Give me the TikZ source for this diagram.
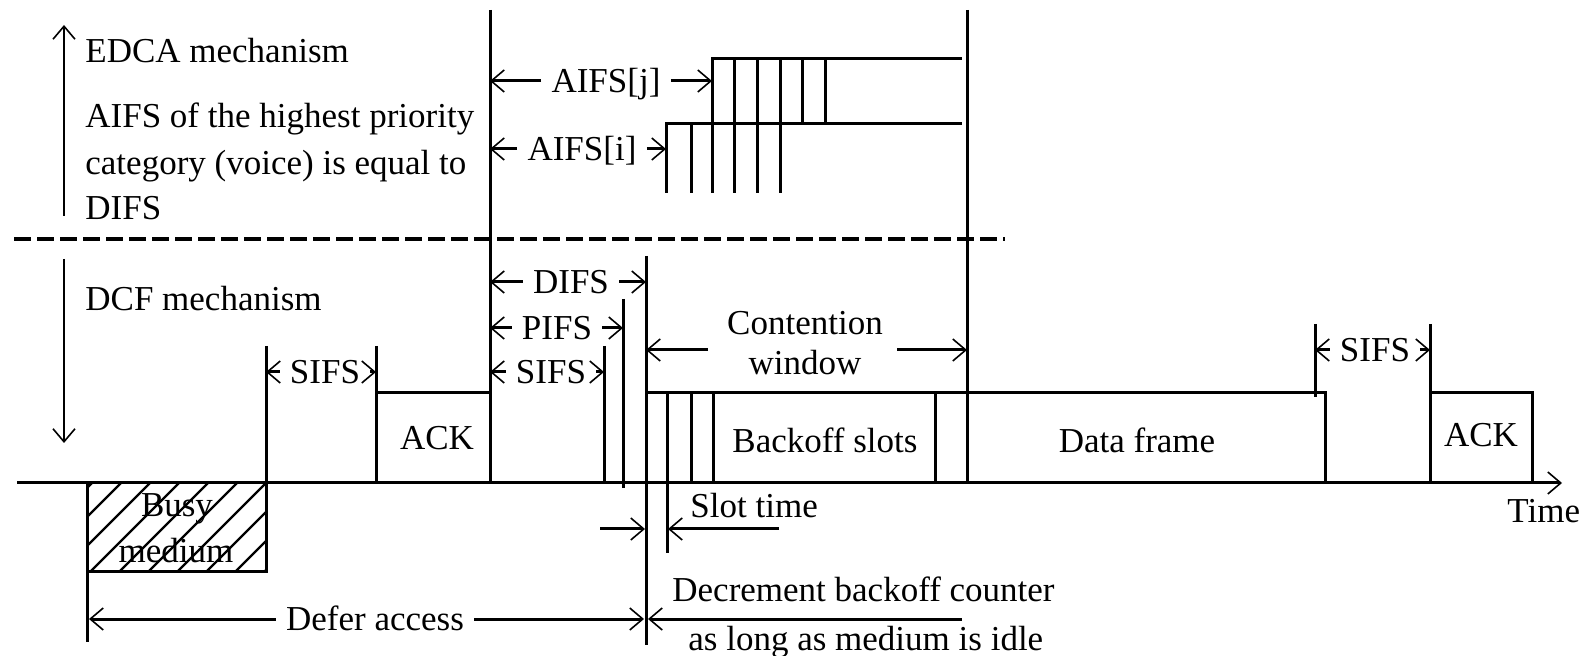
\documentclass[tikz,border=0pt]{standalone}
\usepackage{fontspec}
\setmainfont{Liberation Serif}
\usetikzlibrary{arrows.meta}
\begin{document}
\begin{tikzpicture}[x=0.5pt,y=-0.5pt,
  ln/.style={line width=1.5pt},
  barb/.style={-{Straight Barb[length=6.5pt,width=11pt,line width=0.8pt]}},
  dim/.style={line width=1.5pt,barb},
  vert/.style={line width=1.3pt,barb},
  txt/.style={font=\fontsize{17.5}{23}\selectfont,inner sep=0pt},
  lbl/.style={txt,text height=11.6pt,text depth=0pt,inner xsep=5pt},
  hatch/.style={line width=1.1pt}]
\useasboundingbox (0,0) rectangle (1588,656);

% ---------- named x positions ----------
\coordinate (xBusyL) at (87,0);
\coordinate (xSifsA) at (266,0);
\coordinate (xAckA) at (376,0);
\coordinate (xMain) at (490,0);
\coordinate (xSifsB) at (604,0);
\coordinate (xPifs) at (623,0);
\coordinate (xDifs) at (646,0);
\coordinate (xSlot) at (667,0);
\coordinate (xAi) at (666,0);
\coordinate (xAj) at (712,0);
\coordinate (xCw) at (967,0);
\coordinate (xSifsC) at (1315,0);
\coordinate (xAckB) at (1430,0);

% ---------- time axis ----------
\coordinate (ax0) at (17,483);
\coordinate (ax1) at (1562,483);
\draw[ln,barb] (ax0) -- (ax1);
\node[txt,anchor=base west] (time) at (1507,523) {Time};

% ---------- busy medium ----------
\coordinate (bm0) at (87,483);
\coordinate (bm1) at (266,572);
\begin{scope}
  \clip (bm0) rectangle (bm1);
  \foreach \k in {-4,...,6} \draw[hatch] ({90+29*\k},572) -- ++(110,-110);
\end{scope}
\draw[ln] (bm0) rectangle (bm1);
\node[txt,anchor=base] (busy) at (177,517) {Busy};
\node[txt,anchor=base] (medium) at (176,563) {medium};

% ---------- vertical lines and frames ----------
\draw[ln] (87,483) -- (87,642);
\draw[ln] (266,346) -- (266,572);
\draw[ln] (376,346) -- (376,483);
\draw[ln] (376,393) -- (490,393);
\draw[ln] (490,10) -- (490,483);
\draw[ln] (604,346) -- (604,483);
\draw[ln] (623,299) -- (623,488);
\draw[ln] (646,256) -- (646,645);
\draw[ln] (646,393) -- (1325,393) -- (1325,483);
\foreach \x in {691,713,935} \draw[ln] (\x,393) -- (\x,483);
\draw[ln] (667,393) -- (667,553);
\draw[ln] (967,10) -- (967,483);
\draw[ln] (1315,324) -- (1315,397);
\draw[ln] (1430,324) -- (1430,483);
\draw[ln] (1430,393) -- (1532,393) -- (1532,483);

% ---------- AIFS staircases ----------
\draw[ln] (712,193) -- (712,59) -- (962,59);
\foreach \x in {734,757,780} \draw[ln] (\x,59) -- (\x,193);
\foreach \x in {802,825} \draw[ln] (\x,59) -- (\x,124);
\draw[ln] (666,193) -- (666,124) -- (962,124);
\draw[ln] (691,124) -- (691,193);

% ---------- dashed separator ----------
\draw[line width=1.8pt,dash pattern=on 8.5pt off 3pt] (14,239) -- (1005,239);

% ---------- mechanism arrows and texts ----------
\coordinate (upA) at (64,216);
\coordinate (upB) at (64,25);
\draw[vert] (upA) -- (upB);
\coordinate (dnA) at (64,259);
\coordinate (dnB) at (64,443);
\draw[vert] (dnA) -- (dnB);
\node[txt,anchor=base west] (edca) at (85,63) {EDCA mechanism};
\node[txt,anchor=base west] (aifs1) at (85,128) {AIFS of the highest priority};
\node[txt,anchor=base west] (aifs2) at (85,175) {category (voice) is equal to};
\node[txt,anchor=base west] (aifs3) at (85,220) {DIFS};
\node[txt,anchor=base west] (dcf) at (85,311) {DCF mechanism};

% ---------- frame labels ----------
\node[txt,anchor=base] (ack1) at (437,450) {ACK};
\node[txt,anchor=base] (bslots) at (825,453) {Backoff slots};
\node[txt,anchor=base] (dframe) at (1137,453) {Data frame};
\node[txt,anchor=base] (ack2) at (1481,447) {ACK};

% ---------- dimension arrows ----------
\node[lbl] (laj) at (606,81) {AIFS[j]};
\draw[dim] (laj.west) -- (laj.west -| xMain);
\draw[dim] (laj.east) -- (laj.east -| xAj);

\node[lbl] (lai) at (582,149) {AIFS[i]};
\draw[dim] (lai.west) -- (lai.west -| xMain);
\draw[dim] (lai.east) -- (lai.east -| xAi);

\node[lbl] (ldifs) at (571,282) {DIFS};
\draw[dim] (ldifs.west) -- (ldifs.west -| xMain);
\draw[dim] (ldifs.east) -- (ldifs.east -| xDifs);

\node[lbl] (lpifs) at (557,328) {PIFS};
\draw[dim] (lpifs.west) -- (lpifs.west -| xMain);
\draw[dim] (lpifs.east) -- (lpifs.east -| xPifs);

\node[lbl] (lsifsb) at (551,372) {SIFS};
\draw[dim] (lsifsb.west) -- (lsifsb.west -| xMain);
\draw[dim] (lsifsb.east) -- (lsifsb.east -| xSifsB);

\node[lbl] (lsifsa) at (325,372) {SIFS};
\draw[dim] (lsifsa.west) -- (lsifsa.west -| xSifsA);
\draw[dim] (lsifsa.east) -- (lsifsa.east -| xAckA);

\node[lbl] (lsifsc) at (1375,350) {SIFS};
\draw[dim] (lsifsc.west) -- (lsifsc.west -| xSifsC);
\draw[dim] (lsifsc.east) -- (lsifsc.east -| xAckB);

\node[txt,anchor=base] (lcw1) at (805,335) {Contention};
\node[txt,anchor=base] (lcw2) at (805,375) {window};
\coordinate (cwL) at (708,350);
\coordinate (cwR) at (897,350);
\draw[dim] (cwL) -- (cwL -| xDifs);
\draw[dim] (cwR) -- (cwR -| xCw);

% slot time
\node[txt,anchor=base west] (lslot) at (690,518) {Slot time};
\coordinate (stL) at (600,529);
\coordinate (stR) at (779,529);
\coordinate (stLt) at (645,529);
\coordinate (stRt) at (668,529);
\draw[dim] (stL) -- (stLt);
\draw[dim] (stR) -- (stRt);

% defer access
\node[lbl] (ldef) at (375,619) {Defer access};
\coordinate (dfL) at (89,619);
\coordinate (dfR) at (644,619);
\draw[dim] (ldef.west) -- (dfL);
\draw[dim] (ldef.east) -- (dfR);

% decrement backoff counter
\node[txt,anchor=base west] (ldec1) at (672,601) {Decrement backoff counter};
\node[txt,anchor=base west] (ldec2) at (688,650) {as long as medium is idle};
\coordinate (dcA) at (962,619);
\coordinate (dcB) at (648,619);
\draw[dim] (dcA) -- (dcB);
\end{tikzpicture}
\end{document}
